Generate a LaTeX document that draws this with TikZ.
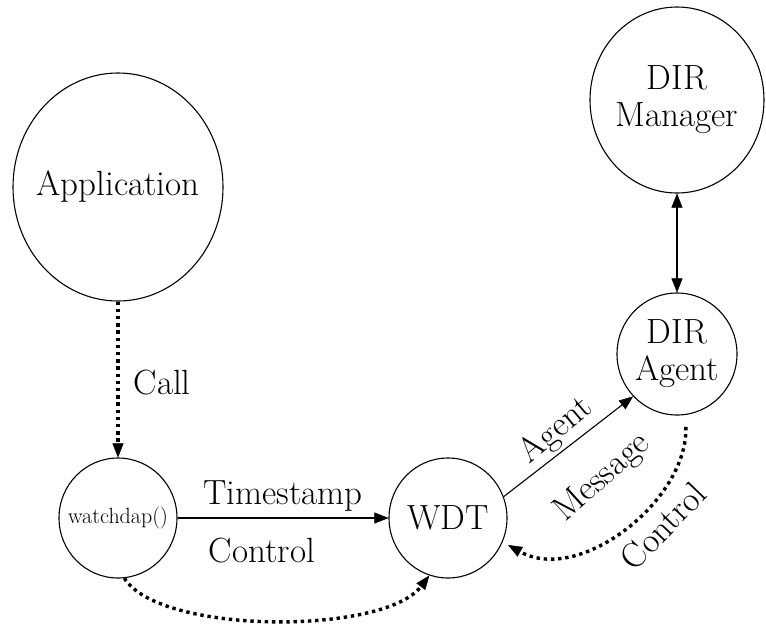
\documentclass[tikz,border=0pt]{standalone}
\usepackage{fontspec}
\usetikzlibrary{arrows.meta,shapes.geometric}
\begin{document}
\begin{tikzpicture}[x=1pt,y=-1pt,
  circ/.style={ellipse,draw,line width=1.1pt,inner sep=-30pt,align=center,
    font=\fontsize{35}{37}\selectfont},
  lbl/.style={inner sep=0pt,font=\fontsize{35}{37}\selectfont},
  tip/.style={-{Triangle[length=14pt,width=11pt,line width=0.4pt]}},
  solidarr/.style={line width=1.1pt,tip},
  dotarr/.style={line width=3.4pt,dash pattern=on 3.4pt off 3.8pt,tip}]
\useasboundingbox (0,0) rectangle (766,625);
\node[circ,minimum width=210pt,minimum height=228pt] (app) at (118,187) {Application};
\node[circ,minimum width=174pt,minimum height=186pt] (mgr) at (677,100) {DIR\\Manager};
\node[circ,minimum width=120pt,minimum height=122pt] (agent) at (677,354) {DIR\\Agent};
\node[circ,minimum width=118pt,minimum height=120pt,font=\fontsize{22}{24}\selectfont] (watch) at (118,518) {watchdap()};
\node[circ,minimum width=118pt,minimum height=120pt] (wdt) at (448,518) {WDT};

\draw[dotarr] (app.south) -- node[lbl,pos=0.52,anchor=west,xshift=14pt] {Call} (watch.north);
\draw[solidarr] (watch.east) --
  node[lbl,pos=0.5,anchor=base,yshift=14pt] {Timestamp}
  node[lbl,pos=0.4,anchor=base,yshift=-44pt] {Control} (wdt.west);
\draw[dotarr] (watch.-84) .. controls (160,635) and (384,635) .. (wdt.-108);
\draw[solidarr] (wdt.21) -- (agent.-136);
\node[lbl,rotate=40] (lagent) at (556,431) {Agent};
\node[lbl,rotate=42] (lmsg) at (603,478) {Message};
\draw[dotarr,shorten <=12pt] (agent.-82) .. controls (688,500) and (580,585) .. (508,545);
\node[lbl,rotate=46] (lctrl) at (663,526) {Control};
\draw[line width=1.1pt,{Triangle[length=14pt,width=11pt,line width=0.4pt]}-{Triangle[length=14pt,width=11pt,line width=0.4pt]}] (mgr.south) -- (agent.north);
\end{tikzpicture}
\end{document}
